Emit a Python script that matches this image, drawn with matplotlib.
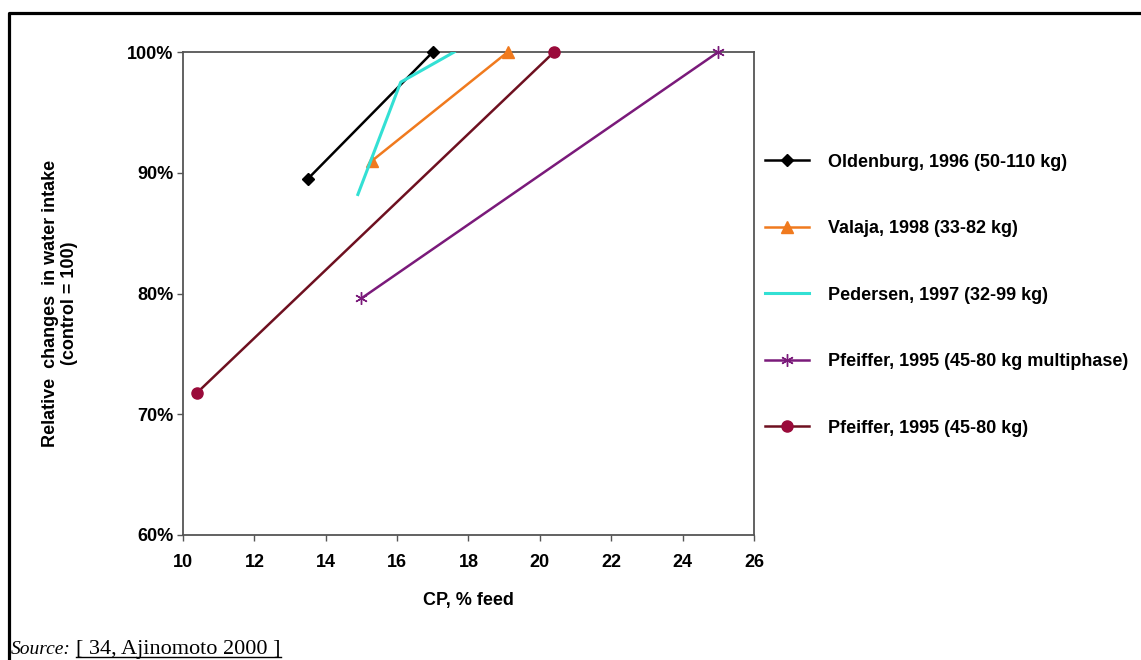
import matplotlib.pyplot as plt
from matplotlib.lines import Line2D
from matplotlib.ticker import FuncFormatter

# data
old_x = [13.5, 17.0]
old_y = [89.5, 100.0]
val_x = [15.3, 19.1]
val_y = [91.0, 100.0]
ped_x = [14.9, 16.1, 17.6]
ped_y = [88.2, 97.5, 100.0]
pfm_x = [15.0, 25.0]
pfm_y = [79.6, 100.0]
pf_x = [10.4, 20.4]
pf_y = [71.8, 100.0]

labels = ['Oldenburg, 1996 (50-110 kg)',
          'Valaja, 1998 (33-82 kg)',
          'Pedersen, 1997 (32-99 kg)',
          'Pfeiffer, 1995 (45-80 kg multiphase)',
          'Pfeiffer, 1995 (45-80 kg)']

plt.rcParams['font.family'] = ['Liberation Sans', 'DejaVu Sans']

fig = plt.figure(figsize=(11.41, 6.60), dpi=100)
ax = fig.add_axes([0.1604, 0.1894, 0.5004, 0.7318])

ax.plot(old_x, old_y, color='black', lw=1.8, marker='D', ms=6,
        clip_on=False, label=labels[0])
ax.plot(val_x, val_y, color='#F07A1E', lw=1.8, marker='^', ms=8,
        clip_on=False, label=labels[1])
ax.plot(ped_x, ped_y, color='#33E0D4', lw=2.2, label=labels[2])
ax.plot(pfm_x, pfm_y, color='#7A1A7A', lw=1.8, marker=(6, 2, 0), ms=9,
        mec='#7A1A7A', mew=1.0, clip_on=False, label=labels[3])
ax.plot(pf_x, pf_y, color='#6E1020', lw=1.8, marker='o', ms=8,
        mfc='#9A0A3A', mec='#9A0A3A', clip_on=False, label=labels[4])

ax.set_xlim(10, 26)
ax.set_ylim(60, 100)
ax.set_xticks(range(10, 27, 2))
ax.set_yticks(range(60, 101, 10))
ax.yaxis.set_major_formatter(FuncFormatter(lambda v, p: '%d%%' % v))
for s in ax.spines.values():
    s.set_color('#555555')
    s.set_linewidth(1.3)
    s.set_zorder(1)
ax.tick_params(direction='out', length=4, width=1.0, color='#555555',
               labelsize=13, pad=3)
for t in ax.get_xticklabels() + ax.get_yticklabels():
    t.set_fontweight('bold')
ax.tick_params(axis='x', pad=10)

ax.set_xlabel('CP, % feed', fontsize=13, fontweight='bold', labelpad=15)
fig.text(0.053, 0.54, 'Relative  changes  in water intake\n(control = 100)',
         rotation=90, ha='center', va='center', fontsize=13,
         fontweight='bold', linespacing=1.15)

leg = fig.legend(loc='upper left', bbox_to_anchor=(0.6643, 0.778),
                 borderaxespad=0, frameon=False,
                 prop={'size': 13, 'weight': 'bold'},
                 handlelength=2.4, handletextpad=1.1, labelspacing=2.74,
                 numpoints=1)

# document-style frame and source line
fig.add_artist(Line2D([9 / 1141, 9 / 1141, 1.0], [0.0, 1 - 13 / 660, 1 - 13 / 660],
                      transform=fig.transFigure, color='black', lw=2.3))
src1 = fig.text(11 / 1141, 1 - 654 / 660, 'Source:', family='Liberation Serif',
                style='italic', fontsize=14, va='baseline')
src2 = fig.text(76 / 1141, 1 - 654 / 660, '[ 34, Ajinomoto 2000 ]',
                family='Liberation Serif', fontsize=16, va='baseline')
fig.canvas.draw()
bb2 = src2.get_window_extent()
fig.add_artist(Line2D([bb2.x0 / 1141, bb2.x1 / 1141], [1 - 657 / 660, 1 - 657 / 660],
                      transform=fig.transFigure, color='black', lw=1.0))

fig.savefig('out.png', dpi=100)
